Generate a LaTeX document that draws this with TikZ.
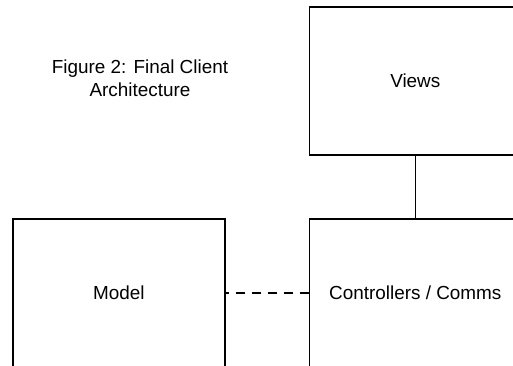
\documentclass[tikz,border=0pt]{standalone}
\usepackage{fontspec}
\setmainfont{Liberation Sans}
\begin{document}
\begin{tikzpicture}[x=1pt,y=-1pt,
  box/.style={draw=black,line width=1.5pt,rectangle,minimum width=212pt,minimum height=148pt,inner sep=0pt,font=\fontsize{18.9}{22.7}\selectfont},
  link/.style={draw=black,line width=1.5pt}]
\useasboundingbox (0,0) rectangle (513,366);
\clip (0,0) rectangle (513,366);
\node[box] (views) at (415.3,81) {Views};
\node[box] (ctrl) at (415.3,293) {Controllers / Comms};
\node[box] (model) at (118.8,293) {Model};
\node[align=center,font=\fontsize{18.9}{22.7}\selectfont] (title) at (140,78) {Figure 2: Final Client\\Architecture};
\draw[link] (views) -- (ctrl);
\draw[link,dash pattern=on 9pt off 7pt,dash phase=6pt] (model) -- (ctrl);
\end{tikzpicture}
\end{document}
